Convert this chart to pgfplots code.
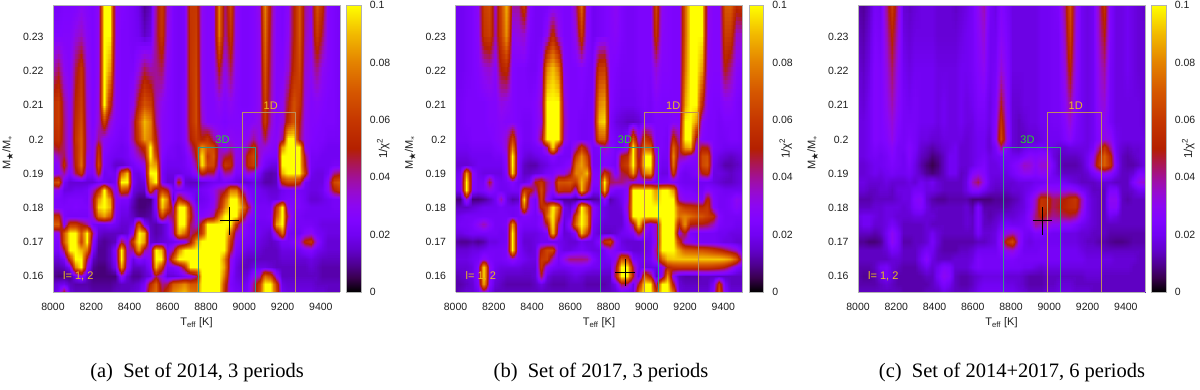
\documentclass[border=0pt]{standalone}
\usepackage{amssymb}
\usepackage{fontspec}
\setmainfont{Liberation Sans}
\newfontfamily\capfont{Liberation Serif}
\usepackage{pgfplots}
\pgfplotsset{compat=1.18}
\usepgfplotslibrary{patchplots}

% gnuplot rgbformulae 7,5,15
\pgfplotsset{colormap={gp}{
  rgb(0pt)=(0,0,0); rgb(1pt)=(.224,0,.309); rgb(2pt)=(.316,.001,.588); rgb(3pt)=(.387,.003,.809);
  rgb(4pt)=(.447,.008,.951); rgb(5pt)=(.5,.016,1); rgb(6pt)=(.548,.027,.951); rgb(7pt)=(.592,.043,.809);
  rgb(8pt)=(.632,.064,.588); rgb(9pt)=(.671,.091,.309); rgb(10pt)=(.707,.125,0); rgb(12pt)=(.775,.216,0);
  rgb(14pt)=(.837,.343,0); rgb(16pt)=(.894,.512,0); rgb(18pt)=(.949,.729,0); rgb(20pt)=(1,1,0)}}

\definecolor{box3d}{RGB}{55,150,135}
\definecolor{box1d}{RGB}{190,140,95}
\definecolor{lab3d}{RGB}{40,210,40}
\definecolor{lab1d}{RGB}{235,190,30}
\definecolor{txt}{RGB}{30,30,30}

% one row: M, then 1/chi^2 x 1000 at Teff = 8000, 8030, ... 9500
\newcount\tcol
\newcommand\R[2]{\tcol=8000 \pgfplotsforeachungrouped \z in {#2}{\xdef\meshpts{\meshpts (\the\tcol,#1,\z)}\advance\tcol by 30 }}

\gdef\meshpts{}
\R{0.2393}{22,22,24,24,24,28,26,24,30,100, 100,30,26,24,22,18,10,14,40,62, 35,24,22,24,60,60,30,26,28,80, 40,65,30,24,24,26,32,80,45,26, 24,28,50,70,40,32,70,55,26,24, 22}
\R{0.23}{25,25,26,26,32,36,28,24,30,100, 100,30,24,24,22,20,14,18,42,60, 32,24,22,24,58,62,30,26,28,78, 38,58,30,24,24,26,30,75,42,26, 24,30,50,70,38,30,62,45,26,24, 22}
\R{0.22}{35,45,30,26,45,58,32,24,30,100, 85,28,24,24,24,32,45,38,40,45, 28,24,22,24,58,64,30,26,28,50, 30,45,28,24,24,26,30,68,40,26, 26,34,55,65,34,30,42,30,26,24, 22}
\R{0.21}{55,62,40,28,52,62,34,24,32,100, 55,28,24,24,30,52,68,62,38,30, 26,24,22,26,55,66,32,26,26,30, 26,30,26,24,24,26,30,62,38,26, 30,48,68,58,32,26,28,26,24,24, 22}
\R{0.205}{55,62,42,28,55,66,35,24,34,62, 35,26,24,24,40,68,90,80,40,28, 26,24,22,26,55,66,36,26,26,26, 24,26,26,26,26,28,32,60,36,26, 32,55,70,50,30,26,26,24,24,24, 22}
\R{0.2}{52,58,42,28,58,70,36,25,40,30, 26,24,22,24,40,62,85,78,50,28, 26,24,22,26,50,60,50,58,40,30, 28,30,28,28,30,40,30,45,30,28, 40,100,100,45,30,26,24,24,22,22, 22}
\R{0.1975}{45,50,42,28,55,70,36,26,55,28, 24,22,20,22,32,45,55,100,55,28, 24,22,20,24,38,55,85,70,65,38, 28,38,30,28,40,58,35,32,28,26, 85,100,100,100,30,24,24,22,20,20, 20}
\R{0.195}{30,38,45,26,55,72,32,26,60,25, 22,20,20,22,28,36,45,100,65,26, 22,22,20,22,30,50,100,60,70,35, 45,50,30,28,55,65,35,26,24,24, 100,100,100,100,45,22,22,20,20,20, 20}
\R{0.1925}{25,30,55,26,52,75,30,26,65,24, 20,15,15,18,22,26,32,90,85,24, 20,20,20,22,26,40,100,65,65,30, 60,55,28,26,55,62,32,22,18,18, 100,100,100,100,50,22,20,20,20,22, 22}
\R{0.19}{25,28,40,24,45,60,25,24,52,20, 22,20,70,90,20,18,25,100,100,22, 18,18,18,20,22,30,55,45,45,22, 40,38,24,24,35,30,22,14,12,14, 90,100,100,100,60,20,18,18,22,40, 45}
\R{0.1875}{60,70,22,16,16,16,16,16,20,20, 18,22,100,100,22,16,18,85,100,24, 16,16,55,16,14,14,16,18,20,20, 22,20,18,16,16,18,16,12,12,14, 55,65,65,55,22,18,18,18,30,65, 70}
\R{0.185}{30,30,18,18,20,20,22,36,55,100, 55,24,65,60,18,14,14,65,35,62, 50,22,22,22,20,20,22,24,30,40, 45,78,78,40,24,22,20,18,16,16, 20,22,22,22,20,18,18,20,30,50, 60}
\R{0.1825}{24,24,22,24,24,24,22,45,85,100, 85,28,24,24,14,8,8,8,24,100, 80,14,60,40,30,18,20,22,28,45, 70,100,100,70,30,22,20,20,18,18, 22,24,24,24,20,16,16,18,20,22, 22}
\R{0.18}{24,24,24,24,25,24,24,42,95,100, 90,26,20,20,12,8,8,10,24,95, 70,38,100,100,50,24,22,24,30,50, 80,100,100,85,50,25,22,22,22,60, 100,28,24,24,22,20,20,20,20,22, 22}
\R{0.1775}{55,55,24,22,22,22,22,35,75,85, 70,24,18,18,14,10,10,12,20,65, 40,45,100,100,55,28,26,30,40,75, 100,100,100,60,30,24,22,22,24,70, 100,40,22,22,20,20,20,20,20,20, 20}
\R{0.175}{70,72,26,60,60,50,40,22,20,20, 22,20,16,16,20,70,25,14,12,14, 20,40,100,100,45,32,55,100,100,100, 100,100,55,30,24,22,20,20,20,85, 100,28,22,22,22,22,20,18,18,18, 18}
\R{0.1725}{28,30,70,100,100,70,100,40,16,14, 14,14,14,16,30,100,90,15,12,14, 20,38,90,75,40,50,60,100,100,100, 100,75,35,26,24,22,20,18,16,40, 75,22,20,20,26,30,22,20,18,18, 18}
\R{0.17}{24,24,70,100,100,65,100,28,12,10, 12,14,45,28,62,100,85,16,14,16, 18,20,24,28,50,85,100,100,100,100, 100,60,28,22,22,20,18,16,14,16, 22,22,24,30,52,58,30,20,16,16, 16}
\R{0.1675}{22,22,45,100,100,90,75,22,10,10, 14,26,100,35,40,85,40,30,100,90, 24,40,80,100,100,100,100,100,100,100, 100,50,24,20,18,18,16,14,14,14, 18,18,18,20,24,26,20,18,16,16, 16}
\R{0.165}{16,16,22,60,100,100,45,14,10,10, 14,24,100,35,18,26,22,28,100,100, 30,70,100,100,100,100,100,100,100,100, 80,32,20,16,14,14,14,14,14,14, 16,16,16,16,16,18,16,14,14,14, 14}
\R{0.1625}{12,12,14,22,80,100,30,10,8,8, 12,20,85,30,14,14,16,24,90,60, 22,24,30,55,100,100,100,100,100,100, 85,30,18,14,14,18,18,18,16,14, 14,14,14,14,14,16,14,12,12,12, 12}
\R{0.16}{10,8,8,8,20,30,14,8,8,8, 8,8,30,16,10,10,14,18,45,30, 16,16,18,22,26,40,100,100,100,100, 75,26,18,16,18,30,35,75,65,30, 14,14,14,14,14,14,14,12,12,12, 12}
\R{0.1575}{14,18,20,14,12,12,12,10,10,10, 10,12,14,14,14,16,22,55,72,40, 45,70,75,82,70,70,100,100,100,100, 60,24,20,18,22,40,60,100,100,60, 18,16,16,16,16,16,14,14,14,14, 14}
\R{0.1554}{16,22,50,16,14,14,14,12,12,12, 12,14,14,14,16,18,26,65,75,45, 60,80,85,90,78,75,100,100,100,100, 55,26,22,20,24,42,65,100,100,65, 20,18,18,18,18,18,16,16,14,14, 14}
\global\let\meshA\meshpts

\gdef\meshpts{}
\R{0.2393}{20,20,22,24,30,62,66,35,65,90, 40,40,62,26,22,22,22,24,26,24, 24,40,75,30,20,22,24,26,30,24, 22,22,24,24,24,65,30,26,24,24, 70,100,100,100,32,26,26,70,72,55, 60}
\R{0.23}{20,20,22,24,28,58,62,38,62,85, 30,32,35,24,22,22,30,55,32,24, 24,32,60,28,20,22,24,26,28,24, 22,22,24,24,24,58,28,26,24,24, 70,100,100,100,30,26,26,62,60,35, 35}
\R{0.22}{20,20,22,24,26,32,35,28,50,55, 26,24,24,22,22,28,80,92,78,28, 24,24,26,24,22,60,62,26,24,22, 22,22,24,24,24,34,26,26,24,24, 75,100,100,85,28,26,26,50,40,28, 24}
\R{0.21}{22,22,24,24,24,24,26,26,32,30, 26,24,24,24,26,35,100,100,100,35, 24,24,24,22,24,80,85,26,22,20, 20,20,22,24,22,26,24,24,24,24, 85,100,100,55,26,24,24,28,28,24, 22}
\R{0.205}{22,22,24,24,24,24,26,26,28,26, 26,24,22,22,26,32,100,100,100,38, 24,24,22,22,24,90,95,24,18,16, 14,14,16,22,22,24,24,24,26,26, 100,100,85,30,24,24,22,24,24,24, 22}
\R{0.2}{22,22,22,24,24,24,24,26,28,35, 62,28,22,22,26,45,100,100,100,35, 24,24,22,22,24,70,72,26,22,20, 24,70,30,60,50,24,24,22,55,38, 100,100,45,26,24,24,22,22,24,24, 22}
\R{0.1975}{20,20,20,22,22,22,22,24,26,35, 80,26,20,20,22,24,40,100,45,24, 22,35,60,42,22,24,35,28,22,20, 30,100,40,75,70,24,24,22,72,45, 85,90,30,50,48,24,22,20,20,20, 20}
\R{0.195}{18,18,18,20,20,20,20,22,22,30, 100,26,18,16,18,20,22,28,22,22, 22,60,82,62,22,22,28,26,22,50, 55,100,40,100,100,30,22,22,80,40, 40,30,26,65,68,22,18,16,14,16, 18}
\R{0.1925}{16,16,16,18,20,20,20,20,20,28, 100,24,14,12,12,16,18,22,22,24, 28,75,85,70,22,22,26,24,22,55, 62,100,45,100,100,28,20,20,75,30, 24,24,24,65,70,20,16,12,12,14, 16}
\R{0.19}{18,22,85,30,20,18,18,18,18,26, 95,24,14,14,16,18,22,24,30,30, 45,80,80,90,26,24,60,45,24,45, 50,85,35,80,85,24,18,18,60,24, 20,22,24,50,55,18,18,16,14,16, 18}
\R{0.1875}{20,24,100,28,22,22,48,24,20,22, 26,20,18,22,50,58,40,30,68,68, 70,60,90,68,26,26,100,45,42,42, 36,30,28,24,24,22,22,24,24,22, 20,20,20,20,20,18,16,14,14,16, 18}
\R{0.185}{20,22,100,26,22,24,30,24,20,20, 22,22,60,55,38,65,38,26,58,55, 55,30,90,55,22,22,90,28,22,22, 28,100,100,100,100,85,100,100,85,28, 24,24,22,22,28,24,22,20,20,20, 20}
\R{0.1825}{8,8,35,8,8,10,14,20,38,18, 12,14,95,30,22,62,30,16,12,10, 10,8,8,8,10,12,30,12,16,20, 30,100,100,100,100,90,100,100,100,35, 28,28,26,24,55,26,22,22,24,30, 28}
\R{0.18}{14,14,14,16,18,20,20,20,22,20, 20,22,75,30,22,55,65,100,75,20, 16,30,100,75,30,20,18,16,16,18, 35,100,100,100,100,100,100,100,100,70, 60,58,55,55,60,28,22,22,24,28, 24}
\R{0.1775}{18,20,22,22,22,22,22,22,22,22, 20,22,25,24,22,26,75,100,60,18, 20,65,100,85,26,20,18,16,16,16, 30,100,100,100,100,100,100,100,100,75, 80,75,70,68,62,55,26,22,22,22, 22}
\R{0.175}{20,22,22,24,30,38,28,22,22,24, 85,26,22,22,22,28,48,100,40,16, 30,75,100,85,22,18,16,16,16,16, 26,45,100,38,26,35,100,100,100,50, 85,50,48,48,45,36,24,22,22,20, 20}
\R{0.1725}{18,18,20,22,22,22,22,22,20,22, 100,24,18,18,18,20,24,95,30,16, 18,26,90,62,20,16,14,14,16,20, 22,26,50,26,22,36,100,100,100,30, 50,24,22,22,22,22,20,20,18,18, 18}
\R{0.17}{12,10,10,12,10,12,18,18,20,22, 100,24,16,16,18,20,20,20,20,18, 16,16,20,18,18,25,55,62,28,18, 16,16,16,18,20,32,100,100,100,60, 32,28,24,22,22,22,20,18,18,16, 16}
\R{0.1675}{16,16,16,18,18,20,22,22,22,24, 100,24,18,16,18,52,65,65,22,18, 18,20,22,20,18,18,22,30,24,20, 18,16,16,18,20,40,100,100,100,85, 72,70,68,68,65,60,55,48,40,34, 20}
\R{0.165}{18,18,18,20,22,30,24,22,22,24, 30,24,20,18,18,60,62,35,22,32, 42,42,42,40,26,20,20,22,30,70, 65,24,20,20,22,34,72,90,92,92, 92,92,92,92,92,92,92,90,85,70, 35}
\R{0.1625}{16,16,16,18,26,100,30,20,18,18, 18,18,16,16,16,58,28,22,20,20, 22,24,24,22,20,20,18,18,45,100, 100,45,20,18,18,18,26,52,58,60, 60,60,60,60,60,58,55,50,38,26, 20}
\R{0.16}{12,14,16,18,26,100,28,18,16,14, 14,14,14,14,16,45,18,14,14,14, 16,18,16,14,14,14,14,14,50,100, 100,50,14,70,50,14,28,82,28,14, 12,12,12,14,14,14,14,14,14,14, 14}
\R{0.1575}{12,12,14,16,24,90,26,16,14,12, 12,12,12,12,14,18,14,12,12,12, 14,14,14,12,12,12,12,14,20,45, 40,18,50,100,100,38,100,100,50,16, 14,14,14,14,14,22,62,22,14,14, 14}
\R{0.1554}{12,14,16,16,20,32,20,14,14,14, 14,14,14,14,14,14,14,14,14,14, 14,14,14,14,14,14,14,14,16,20, 18,18,75,100,100,60,100,100,75,18, 16,16,16,16,16,26,70,26,16,16, 16}
\global\let\meshB\meshpts

\gdef\meshpts{}
\R{0.2393}{12,10,14,22,20,40,62,38,16,14, 16,18,18,18,16,16,16,14,16,18, 22,30,38,22,18,26,22,18,18,18, 18,18,20,20,22,24,40,68,34,20, 18,20,38,58,24,18,18,20,18,16, 14}
\R{0.23}{14,12,16,24,22,36,52,34,18,16, 18,18,18,18,16,16,16,16,18,20, 22,28,34,20,20,28,24,18,18,18, 18,18,20,20,22,22,36,62,32,20, 18,20,36,50,24,18,18,20,18,16, 16}
\R{0.22}{16,14,18,26,24,32,44,30,20,18, 20,20,20,20,18,18,18,18,20,20, 22,26,30,20,22,34,26,18,18,18, 18,18,20,20,22,22,32,52,30,20, 18,20,32,40,22,18,18,20,18,16, 16}
\R{0.21}{18,16,20,26,24,30,38,28,22,20, 22,20,20,20,18,20,18,18,20,18, 20,24,24,18,24,48,28,16,16,18, 18,18,20,20,22,22,28,40,26,20, 18,20,30,34,22,18,18,18,18,18, 16}
\R{0.205}{18,18,20,26,24,28,34,26,22,22, 22,20,20,20,18,20,18,18,20,18, 18,22,22,18,26,58,30,16,14,16, 18,18,20,20,22,22,26,34,24,20, 18,20,28,30,22,18,18,18,18,18, 16}
\R{0.2}{18,18,20,26,24,26,32,24,22,24, 22,18,18,16,16,18,18,18,18,16, 18,20,20,16,28,65,32,16,14,14, 16,16,18,20,20,20,24,28,22,20, 18,20,26,32,30,20,18,18,18,18, 18}
\R{0.1975}{18,18,20,24,22,24,28,22,22,26, 22,16,14,12,14,16,18,20,16,16, 18,20,20,16,22,40,24,16,14,18, 20,20,22,20,18,16,16,18,18,18, 18,22,40,58,40,20,16,14,16,16, 18}
\R{0.195}{18,18,20,22,20,22,26,22,20,26, 20,14,12,8,10,14,20,20,16,16, 18,20,22,18,20,22,22,20,20,24, 28,26,28,28,18,14,14,14,14,16, 20,30,55,72,55,22,14,12,14,16, 18}
\R{0.1925}{16,16,18,20,20,22,24,22,20,24, 18,12,8,5,8,14,20,20,16,16, 18,22,24,18,18,20,20,24,28,36, 34,28,34,34,22,14,12,12,12,14, 20,34,60,72,58,24,14,12,12,14, 18}
\R{0.19}{16,16,18,20,18,20,22,20,20,22, 18,14,10,8,10,14,20,20,14,16, 26,30,26,18,18,18,18,22,26,30, 30,26,30,28,20,16,14,14,14,14, 16,22,28,32,28,20,14,14,16,24, 24}
\R{0.1875}{18,18,16,16,16,18,16,16,16,18, 16,20,18,20,16,14,14,14,14,18, 36,45,30,18,16,16,16,16,18,18, 18,20,20,22,22,22,20,18,16,14, 14,14,16,16,16,14,14,14,24,32, 34}
\R{0.185}{16,16,14,14,16,16,14,18,18,18, 22,22,18,18,16,14,14,14,14,18, 26,26,20,16,14,14,14,16,16,18, 20,24,30,32,30,30,30,32,28,22, 18,14,14,14,24,24,14,14,16,20, 20}
\R{0.1825}{12,12,12,14,14,14,14,16,18,18, 26,28,16,12,10,10,12,12,12,12, 8,8,8,8,10,10,10,12,14,18, 24,36,58,56,44,46,50,56,60,38, 20,16,14,14,30,30,14,12,14,14, 14}
\R{0.18}{14,14,14,16,16,18,18,18,16,18, 24,26,18,14,14,14,14,14,14,16, 12,24,12,12,12,12,12,14,16,18, 24,38,60,54,44,48,52,56,58,36, 20,16,14,14,28,28,14,14,14,14, 14}
\R{0.1775}{18,20,20,18,16,18,18,16,16,16, 18,18,16,16,14,14,14,14,14,16, 14,24,14,12,14,16,16,16,18,20, 28,42,52,46,40,42,44,46,42,28, 20,16,14,14,20,18,14,14,14,14, 14}
\R{0.175}{16,20,20,16,16,18,22,18,14,14, 14,14,16,14,14,14,14,14,14,16, 14,24,14,14,16,20,22,20,20,22, 26,40,36,34,30,30,28,28,24,20, 18,16,14,14,14,14,14,14,14,14, 14}
\R{0.1725}{14,14,14,12,14,20,30,22,14,14, 14,14,16,20,16,14,14,14,14,14, 14,22,16,16,18,26,32,36,30,22, 20,24,24,22,20,20,18,18,18,16, 16,14,14,14,12,12,12,12,12,12, 12}
\R{0.17}{10,10,8,8,10,18,30,22,12,12, 14,14,16,22,16,12,12,12,12,12, 12,14,14,16,18,30,55,65,32,20, 18,20,20,20,20,20,18,18,18,16, 14,14,12,12,10,9,9,10,12,12, 12}
\R{0.1675}{14,14,14,14,14,16,22,20,14,14, 14,18,22,20,14,12,12,12,14,14, 16,20,20,20,20,26,32,34,26,20, 20,20,22,22,22,22,20,20,20,18, 16,16,16,14,14,14,14,14,14,14, 14}
\R{0.165}{14,14,14,14,14,14,16,16,14,14, 14,20,28,18,14,14,14,16,16,16, 18,24,22,22,22,22,24,24,22,22, 22,22,22,22,22,22,20,20,20,20, 18,18,18,18,18,16,16,16,16,14, 14}
\R{0.1625}{12,12,12,14,20,22,16,14,12,12, 12,16,20,16,20,26,24,16,16,16, 20,24,22,22,22,22,22,22,22,20, 20,18,16,18,18,18,18,18,18,18, 18,18,18,16,16,16,16,16,14,14, 14}
\R{0.16}{12,10,10,12,18,22,16,12,12,12, 12,12,14,14,22,30,26,14,12,12, 14,16,18,18,18,18,16,16,16,14, 12,12,12,14,14,14,14,14,14,14, 16,16,16,14,14,14,14,14,14,14, 14}
\R{0.1575}{12,12,12,12,14,16,14,12,12,12, 12,12,12,14,18,24,20,14,12,12, 14,18,20,20,20,20,18,18,16,14, 12,12,12,14,14,16,16,16,14,14, 14,14,14,14,14,14,14,14,14,14, 14}
\R{0.1554}{14,14,14,14,14,14,14,14,12,12, 12,12,14,14,14,18,16,14,14,14, 16,20,22,22,22,22,20,20,18,16, 14,14,14,16,16,18,18,18,16,16, 16,14,14,14,14,14,14,14,14,14, 14}
\global\let\meshC\meshpts

\newcommand\surfplot[1]{\edef\tmp{\noexpand\addplot3[surf,shader=interp,patch type=bilinear,mesh/rows=24,mesh/cols=51,mesh/ordering=x varies,point meta=z] coordinates {#1};}\tmp}
\newcommand\crossat[2]{%
  \pgfmathsetmacro\xa{#1-50}\pgfmathsetmacro\xb{#1+50}\pgfmathsetmacro\ya{#2-0.004}\pgfmathsetmacro\yb{#2+0.004}%
  \edef\tmp{\noexpand\addplot3[black,line width=.8pt] coordinates {(\xa,#2,100) (\xb,#2,100)};
    \noexpand\addplot3[black,line width=.8pt] coordinates {(#1,\ya,100) (#1,\yb,100)};}\tmp}
\newcommand\overlays{%
  \addplot3[box3d,line width=1pt] coordinates {(8760,0.1554,100) (8760,0.1975,100) (9060,0.1975,100) (9060,0.1554,100)};
  \addplot3[box1d,line width=1pt] coordinates {(8990,0.1554,100) (8990,0.208,100) (9270,0.208,100) (9270,0.1554,100)};
  \node[lab3d,font=\fontsize{11}{12}\selectfont] at (axis cs:8886,0.2,100) {3D};
  \node[lab1d,font=\fontsize{11}{12}\selectfont] at (axis cs:9138,0.21,100) {1D};
  \node[lab1d,font=\fontsize{11}{12}\selectfont,anchor=west,inner sep=0pt] at (axis cs:8052,0.16,100) {l= 1, 2};
}

\pgfplotsset{panel/.style={
  scale only axis, width=287pt, height=287pt, view={0}{90},
  xmin=8000, xmax=9500, ymin=0.1554, ymax=0.2393, zmin=0, zmax=100,
  xtick={8000,8200,...,9400}, ytick={0.16,0.17,...,0.23}, ztick=\empty,
  yticklabels={0.16,0.17,0.18,0.19,0.2,0.21,0.22,0.23},
  scaled ticks=false, /pgf/number format/assume math mode=true,
  /pgf/number format/1000 sep={},
  major tick length=0pt,
  tick label style={font=\fontsize{10.5}{12}\selectfont,text=txt},
  xticklabel style={yshift=-8pt}, yticklabel style={xshift=-6pt},
  label style={font=\fontsize{11}{12}\selectfont,text=txt},
  axis line style={draw=gray!60,line width=.6pt},
  xlabel={T\textsubscript{eff} [K]}, ylabel={M$_\bigstar$/M$_*$},
  xlabel style={at={(axis description cs:0.5,0)},anchor=center,yshift=-31pt},
  ylabel style={at={(axis description cs:0,0.485)},anchor=center,yshift=45pt},
  colormap name=gp, point meta min=0, point meta max=100,
  colorbar,
  colorbar style={
    at={(1.0235,1)}, anchor=north west, width=14.5pt,
    ytick={0,20,40,60,80,100}, yticklabels={0,0.02,0.04,0.06,0.08,0.1},
    ylabel={1/χ\textsuperscript{2}},
    major tick length=0pt,
    tick label style={font=\fontsize{10.5}{12}\selectfont,text=txt},
    yticklabel style={xshift=5pt},
    ylabel style={font=\fontsize{11.5}{12}\selectfont,text=txt,at={(axis description cs:1,0.5)},anchor=center,yshift=-22pt},
    axis line style={draw=gray!60,line width=.6pt},
  },
}}

\begin{document}
\begin{tikzpicture}[x=1pt,y=1pt]
\useasboundingbox (0,0) rectangle (1200,389);
\begin{axis}[panel,at={(53pt,97pt)},anchor=south west]
\surfplot{\meshA}
\overlays
\crossat{8922}{0.1762}
\end{axis}
\begin{axis}[panel,at={(455.5pt,97pt)},anchor=south west]
\surfplot{\meshB}
\overlays
\crossat{8886}{0.1612}
\end{axis}
\begin{axis}[panel,at={(858pt,97pt)},anchor=south west]
\surfplot{\meshC}
\overlays
\crossat{8962}{0.1762}
\end{axis}
\node[font=\capfont\fontsize{20.5}{22}\selectfont] at (197,17) {(a)\ \ Set of 2014, 3 periods};
\node[font=\capfont\fontsize{20.5}{22}\selectfont] at (601,17) {(b)\ \ Set of 2017, 3 periods};
\node[font=\capfont\fontsize{20.5}{22}\selectfont] at (1012,17) {(c)\ \ Set of 2014+2017, 6 periods};
\end{tikzpicture}
\end{document}
